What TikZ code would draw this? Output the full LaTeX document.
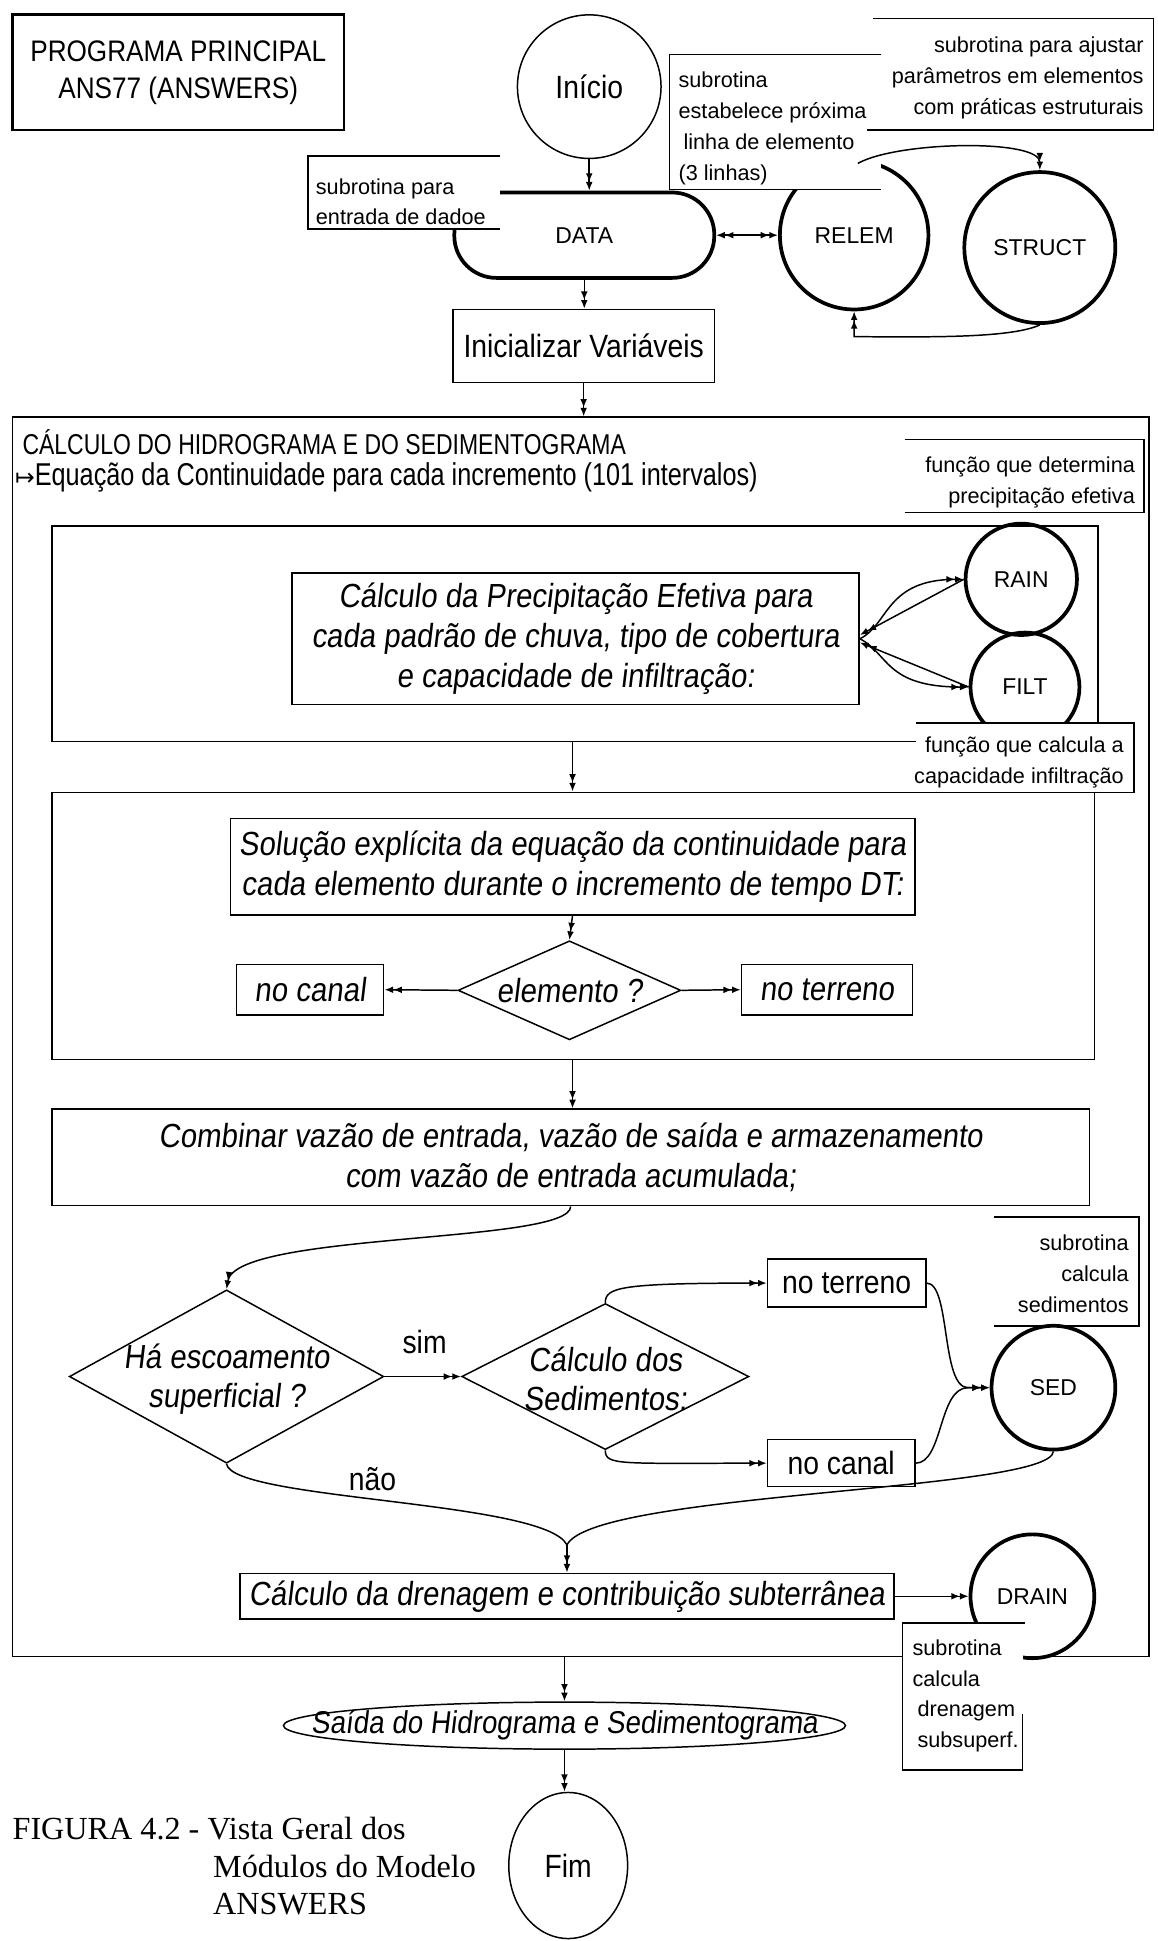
\documentclass[tikz,border=0pt]{standalone}
\usepackage{fontspec}
\setmainfont{Liberation Sans}
\newfontfamily\hand[FakeStretch=0.88]{Liberation Sans}
\newfontfamily\handnarrow[FakeStretch=0.8]{Liberation Sans}
\newfontfamily\handit[FakeStretch=0.88,FakeSlant=0.12]{Liberation Sans}
\newfontfamily\capfont{Liberation Serif}
\newfontfamily\symfont{DejaVu Sans}
\usetikzlibrary{arrows.meta,shapes.geometric}

% text styles
\newcommand\txbig{\handit\fontsize{27}{32}\selectfont}
\newcommand\txup{\hand\fontsize{26}{30}\selectfont}
\newcommand\txtitlebox{\hand\fontsize{24}{30}\selectfont}
\newcommand\txmod{\fontsize{18.5}{22}\selectfont}
\newcommand\txnote{\fontsize{17.5}{25}\selectfont}
\newcommand\txhead{\handnarrow\fontsize{23.2}{26}\selectfont}
\newcommand\txsub{\handnarrow\fontsize{25.5}{28}\selectfont}
\newcommand\txcap{\capfont\fontsize{26}{30}\selectfont}

\begin{document}
\begin{tikzpicture}[x=1pt,y=-1pt,
  ln/.style={line width=1.2pt},
  bold/.style={line width=3pt},
  arr/.style={ln,-{Latex[length=7pt,width=5.5pt]Latex[length=7pt,width=5.5pt]}},
  darr/.style={ln,{Latex[length=7pt,width=5.5pt]Latex[length=7pt,width=5.5pt]}-{Latex[length=7pt,width=5.5pt]Latex[length=7pt,width=5.5pt]}},
  pbox/.style={draw,ln,inner sep=0pt,align=center},
  modc/.style={circle,draw,bold,inner sep=0pt,font=\txmod},
  decision/.style={diamond,draw,ln,inner sep=0pt},
  notetxt/.style={font=\txnote,inner sep=0pt}
]
\useasboundingbox (0,0) rectangle (935,1568);

% ---------- header ----------
\node[draw,line width=2.2pt,minimum width=268pt,minimum height=93pt,inner sep=0pt,
      align=center,font=\txtitlebox] (title) at (144,58.5) {PROGRAMA PRINCIPAL\\ANS77 (ANSWERS)};

\node[circle,draw,ln,minimum size=116pt,inner sep=0pt,font=\txup] (inicio) at (476,70) {Início};

\node[draw,bold,rounded corners=34pt,minimum width=210pt,minimum height=69pt,
      inner sep=0pt,font=\txmod] (data) at (472,190) {DATA};

% note on DATA
\fill[white] (249,126) rectangle (404,185);
\draw[ln] (404,126) -- (249,126) -- (249,185) -- (404,185);
\node[notetxt,anchor=west,align=left] (n1) at (255,163) {subrotina para\\entrada de dadoe};

\node[pbox,minimum width=211pt,minimum height=59pt,font=\txup] (init) at (471.5,279.5) {Inicializar Variáveis};

\node[modc,minimum size=120pt] (relem) at (690,190) {RELEM};

% note on RELEM
\fill[white] (541,44) rectangle (712,153);
\node[notetxt,anchor=west,align=left] (n2) at (548,104) {subrotina\\estabelece próxima\\\hspace*{4pt}linha de elemento\\(3 linhas)};
\draw[ln] (712,44) -- (541,44) -- (541,153) -- (712,153);

% note on STRUCT
\draw[ln] (705,15) -- (932,15) -- (932,105) -- (700,105);
\node[notetxt,anchor=east,align=right] (n3) at (924,63) {subrotina para ajustar\\parâmetros em elementos\\com práticas estruturais};

\node[modc,minimum size=122pt] (struct) at (840,200) {STRUCT};

% ---------- main loop block ----------
\node[draw,ln,minimum width=918pt,minimum height=1001pt,inner sep=0pt] (bigbox) at (469,837.5) {};
\node[anchor=west,font=\txhead,inner sep=0pt] (bt1) at (18,357) {CÁLCULO DO HIDROGRAMA E DO SEDIMENTOGRAMA};
\node[anchor=west,font=\txsub,inner sep=0pt] (bt2) at (12,386) {{\symfont\fontsize{19}{24}\selectfont ↦}Equação da Continuidade para cada incremento (101 intervalos)};

\draw[ln] (731,355) -- (924,355) -- (924,414) -- (731,414);
\node[notetxt,anchor=east,align=right] (n4) at (917,390) {função que determina\\precipitação efetiva};

% effective rainfall
\node[draw,ln,minimum width=845pt,minimum height=174pt,inner sep=0pt] (inner1) at (464.5,512) {};
\node[pbox,minimum width=458pt,minimum height=106pt,font=\txbig] (precip) at (465,516)
  {Cálculo da Precipitação Efetiva para\\cada padrão de chuva, tipo de cobertura\\e capacidade de infiltração:};
\node[modc,minimum size=90pt] (rain) at (825,468) {RAIN};
\node[modc,minimum size=88pt] (filt) at (828,555) {FILT};

\fill[white] (740,584) rectangle (916,640);
\draw[ln] (740,584) -- (916,584) -- (916,640) -- (740,640);
\node[notetxt,anchor=east,align=right] (n5) at (908,616) {função que calcula a\\capacidade infiltração};

% continuity equation
\node[draw,ln,minimum width=842pt,minimum height=216pt,inner sep=0pt] (inner2) at (463,748) {};
\node[pbox,minimum width=553pt,minimum height=78pt,font=\txbig] (solucao) at (462.5,700)
  {Solução explícita da equação da continuidade para\\cada elemento durante o incremento de tempo DT:};
\node[decision,minimum width=180pt,minimum height=80pt] (elem) at (460,800) {};
\node[font=\txbig] (elemt) at (elem) {elemento ?};
\node[pbox,minimum width=119pt,minimum height=41pt,font=\txbig] (canal1) at (250.5,799.5) {no canal};
\node[pbox,minimum width=138pt,minimum height=41pt,font=\txbig] (terr1) at (668,799.5) {no terreno};

\node[pbox,minimum width=838pt,minimum height=78pt,font=\txbig] (comb) at (461,935)
  {Combinar vazão de entrada, vazão de saída e armazenamento\\com vazão de entrada acumulada;};

% runoff and sediments
\node[decision,minimum width=254pt,minimum height=140pt] (d1) at (183,1112) {};
\node[font=\txbig,align=center] (d1t) at (183,1114) {Há escoamento\\superficial ?};
\node[decision,minimum width=232pt,minimum height=118pt] (d2) at (489,1112) {};
\node[font=\txbig,align=center] (d2t) at (489,1114) {Cálculo dos\\Sedimentos:};
\node[font=\txup] (sim) at (343,1084) {sim};
\node[font=\txup] (nao) at (301,1195) {não};

\node[pbox,minimum width=128pt,minimum height=39pt,font=\txup] (terr2) at (684,1036.5) {no terreno};
\node[pbox,minimum width=119pt,minimum height=38pt,font=\txup] (canal2) at (679.5,1182) {no canal};
\node[modc,minimum size=100pt] (sed) at (851,1121) {SED};

\draw[ln] (803,983) -- (920,983) -- (920,1071) -- (803,1071);
\node[notetxt,anchor=east,align=right] (n6) at (912,1029) {subrotina\\calcula\\sedimentos};

% drainage
\node[pbox,minimum width=528pt,minimum height=37pt,font=\txbig] (dren) at (458,1289.5) {Cálculo da drenagem e contribuição subterrânea};
\node[modc,minimum size=100pt] (drain) at (834,1289.5) {DRAIN};

\fill[white] (729,1311) rectangle (826,1430);
\draw[ln] (828,1311) -- (729,1311) -- (729,1430) -- (826,1430) -- (826,1385);
\node[notetxt,anchor=west,align=left] (n7) at (737,1370) {subrotina\\calcula\\\hspace*{4pt}drenagem\\\hspace*{4pt}subsuperf.};

% ---------- output ----------
\node[ellipse,draw,ln,minimum width=454pt,minimum height=38pt,inner sep=0pt] (saida) at (456,1394) {};
\node[font=\handit\fontsize{25.5}{30}\selectfont] (saidat) at (saida) {Saída do Hidrograma e Sedimentograma};
\node[ellipse,draw,ln,minimum width=96pt,minimum height=118pt,inner sep=0pt,font=\txup] (fim) at (459,1507) {Fim};

\node[font=\txcap,anchor=west,inner sep=0pt] (cap1) at (10,1477) {FIGURA 4.2 - Vista Geral dos};
\node[font=\txcap,anchor=west,inner sep=0pt] (cap2) at (172,1508) {Módulos do Modelo};
\node[font=\txcap,anchor=west,inner sep=0pt] (cap3) at (172,1538) {ANSWERS};

% ---------- connectors ----------
\draw[arr] (inicio.south) -- (inicio.south |- data.north);
\draw[arr] (data.south) -- (data.south |- init.north);
\draw[arr] (init.south) -- (init.south |- bigbox.north);
\draw[darr] (data.east) -- (relem.west);
\coordinate (s2) at (693,132);
\draw[arr] (s2) .. controls (725,114) and (840,112) .. (struct.north);
\coordinate (r2) at (690,272);
\draw[arr] (struct.south) .. controls (815,274) and (740,272) .. (r2) -- (relem.south);

\draw[arr] (precip.east) .. controls (718,505) and (715,468) .. (rain.west);
\draw[arr] (rain.west) -- ([yshift=3pt]precip.east);
\draw[arr] (precip.east) .. controls (718,528) and (715,555) .. (filt.west);
\draw[arr] (filt.west) -- ([yshift=-3pt]precip.east);

\draw[arr] (solucao.north |- inner1.south) -- (solucao.north |- inner2.north);
\draw[arr] (solucao.south) -- (elem.north);
\draw[arr] (elem.west) -- (canal1.east);
\draw[arr] (elem.east) -- (terr1.west);
\draw[arr] (solucao.south |- inner2.south) -- (solucao.south |- comb.north);

\draw[arr] (comb.south) .. controls (461,1005) and (190,995) .. (d1.north);
\draw[arr] (d1.east) -- (d2.west);
\draw[arr] (d2.north) .. controls (489,1040) and (500,1036.5) .. (terr2.west);
\draw[arr] (d2.south) .. controls (489,1184) and (500,1182) .. (canal2.west);
\coordinate (sj) at (782,1121);
\draw[arr] (terr2.east) .. controls (768,1036.5) and (760,1121) .. (sj) -- (sed.west);
\draw[arr] (canal2.east) .. controls (762,1182) and (758,1121) .. (sj) -- (sed.west);
\coordinate (mg) at (458,1248);
\draw[ln] (d1.south) .. controls (188,1212) and (440,1212) .. (mg);
\draw[ln] (sed.south) .. controls (848,1205) and (480,1205) .. (mg);
\draw[arr] (mg) -- (dren.north);
\draw[arr] (dren.east) -- (drain.west);

\draw[arr] (saida.north |- bigbox.south) -- (saida.north);
\draw[arr] (saida.south) -- (saida.south |- fim.north);
\end{tikzpicture}
\end{document}
